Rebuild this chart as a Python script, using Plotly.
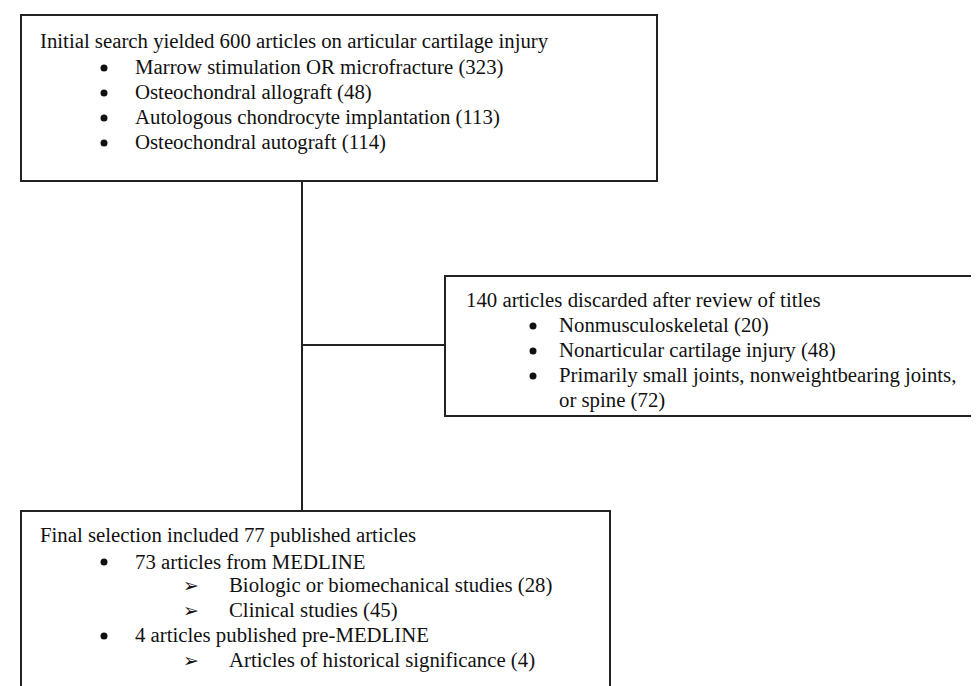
import plotly.graph_objects as go

# ---- data ----
initial_total = 600
initial_items = ["Marrow stimulation OR microfracture", "Osteochondral allograft",
                 "Autologous chondrocyte implantation", "Osteochondral autograft"]
initial_counts = [323, 48, 113, 114]

discarded_total = 140
discarded_items = ["Nonmusculoskeletal", "Nonarticular cartilage injury",
                   "Primarily small joints, nonweightbearing joints,<br>or spine"]
discarded_counts = [20, 48, 72]

final_total = 77
medline_total = 73
medline_items = ["Biologic or biomechanical studies", "Clinical studies"]
medline_counts = [28, 45]
premedline_total = 4
premedline_items = ["Articles of historical significance"]
premedline_counts = [4]

W, H = 979, 686
FONT = dict(family="Liberation Serif, Times New Roman, serif", size=20.8, color="#111111")
AFONT = dict(family="DejaVu Sans, sans-serif", size=19, color="#111111")
LINE = dict(color="#222222", width=2)

fig = go.Figure()

shapes = []
def box(x0, y0, x1, y1):
    shapes.append(dict(type="rect", xref="x", yref="y", x0=x0, y0=y0, x1=x1, y1=y1,
                       line=LINE, fillcolor="rgba(0,0,0,0)"))
def seg(x0, y0, x1, y1):
    shapes.append(dict(type="line", xref="x", yref="y", x0=x0, y0=y0, x1=x1, y1=y1, line=LINE))

box(13, 7, 649, 173)
box(437, 268, 990, 408)
box(13, 503, 602, 700)
seg(294, 173, 294, 503)
seg(294, 337, 437, 337)

anns = []
bx, by = [], []
def txt(x, y, s, font=FONT):
    anns.append(dict(x=x, y=y, xref="x", yref="y", text=s, showarrow=False,
                     xanchor="left", yanchor="middle", align="left", font=font))
def bullet(xc, y):
    bx.append(xc); by.append(y + 1)
def arrow(xc, y):
    anns.append(dict(x=xc, y=y, xref="x", yref="y", text="➢", showarrow=False,
                     xanchor="center", yanchor="middle", font=AFONT))

LS = 25
# box 1
txt(30, 33, f"Initial search yielded {initial_total} articles on articular cartilage injury")
for i, (name, n) in enumerate(zip(initial_items, initial_counts)):
    y = 59 + i * LS
    bullet(96, y)
    txt(125, y, f"{name} ({n})")

# box 2
txt(456, 291, f"{discarded_total} articles discarded after review of titles")
for i, (name, n) in enumerate(zip(discarded_items, discarded_counts)):
    y = 317 + i * LS
    bullet(525, y)
    if "<br>" in name:
        a, b = name.split("<br>")
        txt(549, y, a)
        txt(549, y + LS, f"{b} ({n})")
    else:
        txt(549, y, f"{name} ({n})")

# box 3
txt(30, 527, f"Final selection included {final_total} published articles")
bullet(96, 553)
txt(125, 553, f"{medline_total} articles from MEDLINE")
for i, (name, n) in enumerate(zip(medline_items, medline_counts)):
    y = 577 + i * LS
    arrow(183, y)
    txt(219, y, f"{name} ({n})")
bullet(96, 627)
txt(125, 627, f"{premedline_total} articles published pre-MEDLINE")
for i, (name, n) in enumerate(zip(premedline_items, premedline_counts)):
    y = 652 + i * LS
    arrow(183, y)
    txt(219, y, f"{name} ({n})")

fig.add_trace(go.Scatter(x=bx, y=by, mode="markers",
                         marker=dict(symbol="circle", size=7, color="#111111"),
                         hoverinfo="skip", showlegend=False, cliponaxis=False))

fig.update_layout(
    width=W, height=H, margin=dict(l=0, r=0, t=0, b=0),
    paper_bgcolor="white", plot_bgcolor="white",
    xaxis=dict(range=[0, W], visible=False, fixedrange=True),
    yaxis=dict(range=[H, 0], visible=False, fixedrange=True),
    shapes=shapes, annotations=anns, showlegend=False,
)
fig.write_html("out.html", config={"displayModeBar": False})
